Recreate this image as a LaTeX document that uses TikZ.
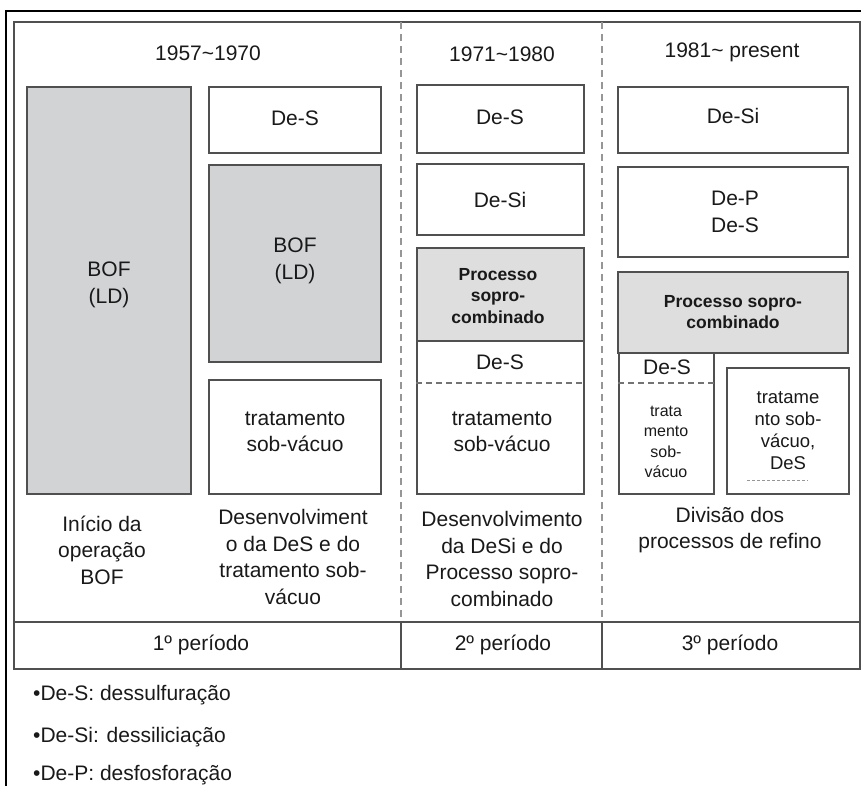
\documentclass[tikz,border=0pt]{standalone}
\usepackage{fontspec}
\setmainfont{Liberation Sans}
\usetikzlibrary{fit}
\definecolor{bofgray}{RGB}{210,211,213}
\definecolor{progray}{RGB}{222,222,222}
\definecolor{ln}{RGB}{80,80,80}
\definecolor{dv}{RGB}{150,150,150}
\definecolor{tx}{RGB}{25,25,25}
\begin{document}
\begin{tikzpicture}[x=1pt,y=-1pt,
  bx/.style={draw=ln, line width=1.5pt, rectangle, inner sep=0pt, fit={#1}},
  tt/.style={font=\fontsize{21}{26.5}\selectfont, text=tx, align=center, inner sep=0pt},
  tb/.style={font=\fontsize{17.5}{21.5}\selectfont\bfseries, text=tx, align=center, inner sep=0pt},
  ts/.style={font=\fontsize{16}{20.5}\selectfont, text=tx, align=center, inner sep=0pt},
  tm/.style={font=\fontsize{18.5}{22}\selectfont, text=tx, align=center, inner sep=0pt},
  dl/.style={draw=ln!80, line width=1.3pt, dash pattern=on 6pt off 4pt},
  dvl/.style={draw=dv, line width=1.3pt, dash pattern=on 7pt off 5pt}]
\useasboundingbox (0,0) rectangle (861,785);
% outer black frame
\coordinate (fbl) at (6,792);
\coordinate (ftl) at (6,11);
\coordinate (ftr) at (868,11);
\draw[black, line width=1.5pt] (fbl) -- (ftl) -- (ftr);
% table
\node[bx={(14,22)(860,669)}] (table) {};
\coordinate (rowl) at (14,622);
\coordinate (rowr) at (860,622);
\draw[ln, line width=1.5pt] (rowl) -- (rowr);
\coordinate (d1t) at (401,22);
\coordinate (d1m) at (401,622);
\coordinate (d1b) at (401,669);
\coordinate (d2t) at (602,22);
\coordinate (d2m) at (602,622);
\coordinate (d2b) at (602,669);
\draw[dvl] (d1t) -- (d1m);
\draw[dvl] (d2t) -- (d2m);
\draw[ln, line width=1.5pt] (d1m) -- (d1b);
\draw[ln, line width=1.5pt] (d2m) -- (d2b);
% years
\node[tt] (y1) at (208,53) {1957\textasciitilde1970};
\node[tt] (y2) at (502,54) {1971\textasciitilde1980};
\node[tt] (y3) at (732,52) {1981\textasciitilde\ present};
% column 1a
\node[bx={(27,87)(191,494)}, fill=bofgray] (bof1) {};
\node[tt] (tbof1) at (109,285) {BOF\\(LD)};
% column 1b
\node[bx={(209,87)(381,153)}] (des1) {};
\node[tt] (tdes1) at (295,118) {De-S};
\node[bx={(209,165)(381,362)}, fill=bofgray] (bof2) {};
\node[tt] (tbof2) at (295,261) {BOF\\(LD)};
\node[bx={(209,380)(381,494)}] (trat1) {};
\node[tt] (ttrat1) at (295,432) {tratamento\\sob-vácuo};
% column 2
\node[bx={(417,85)(584,153)}] (des2) {};
\node[tt] (tdes2) at (500,117) {De-S};
\node[bx={(417,164)(584,235)}] (desi2) {};
\node[tt] (tdesi2) at (500,200) {De-Si};
\node[bx={(417,248)(584,341)}, fill=progray] (pro2) {};
\node[tb] (tpro2) at (498,296) {Processo\\sopro-\\combinado};
\node[bx={(417,341)(584,494)}] (low2) {};
\coordinate (dash2) at (0,383);
\draw[dl] (low2.west |- dash2) -- (low2.east |- dash2);
\node[tt] (tdes2b) at (500,362) {De-S};
\node[tt] (ttrat2) at (502,432) {tratamento\\sob-vácuo};
% column 3
\node[bx={(618,87)(848,153)}] (desi3) {};
\node[tt] (tdesi3) at (733,116) {De-Si};
\node[bx={(618,167)(848,257)}] (dep3) {};
\node[tt] (tdep3) at (735,212) {De-P\\De-S};
\node[bx={(618,272)(848,353)}, fill=progray] (pro3) {};
\node[tb] (tpro3) at (733,312) {Processo sopro-\\combinado};
\node[bx={(619,353)(714,494)}] (low3) {};
\coordinate (dash3) at (0,383);
\draw[dl] (low3.west |- dash3) -- (low3.east |- dash3);
\node[tt] (tdes3) at (667,367) {De-S};
\node[ts] (ttrat3) at (666,442) {trata\\mento\\sob-\\vácuo};
\node[bx={(727,368)(849,494)}] (rt3) {};
\node[tm] (trt3) at (788,431) {tratame\\nto sob-\\vácuo,\\DeS};
\coordinate (dot3a) at (747,480);
\coordinate (dot3b) at (808,480);
\draw[draw=ln!60, line width=0.8pt, dash pattern=on 3pt off 2pt] (dot3a) -- (dot3b);
% labels below
\node[tt] (lab1) at (102,550) {Início da\\operação\\BOF};
\node[tt] (lab2) at (293,557) {Desenvolviment\\o da DeS e do\\tratamento sob-\\vácuo};
\node[tt] (lab3) at (502,559) {Desenvolvimento\\da DeSi e do\\Processo sopro-\\combinado};
\node[tt] (lab4) at (730,530) {Divisão dos\\processos de refino};
% periods
\node[tt] (p1) at (201,645) {1º período};
\node[tt] (p2) at (503,645) {2º período};
\node[tt] (p3) at (730,645) {3º período};
% legend
\node[tt, anchor=west] (leg1) at (33,695) {•De-S: dessulfuração};
\node[tt, anchor=west] (leg2) at (33,737) {•De-Si: dessiliciação};
\node[tt, anchor=west] (leg3) at (33,775) {•De-P: desfosforação};
\end{tikzpicture}
\end{document}
